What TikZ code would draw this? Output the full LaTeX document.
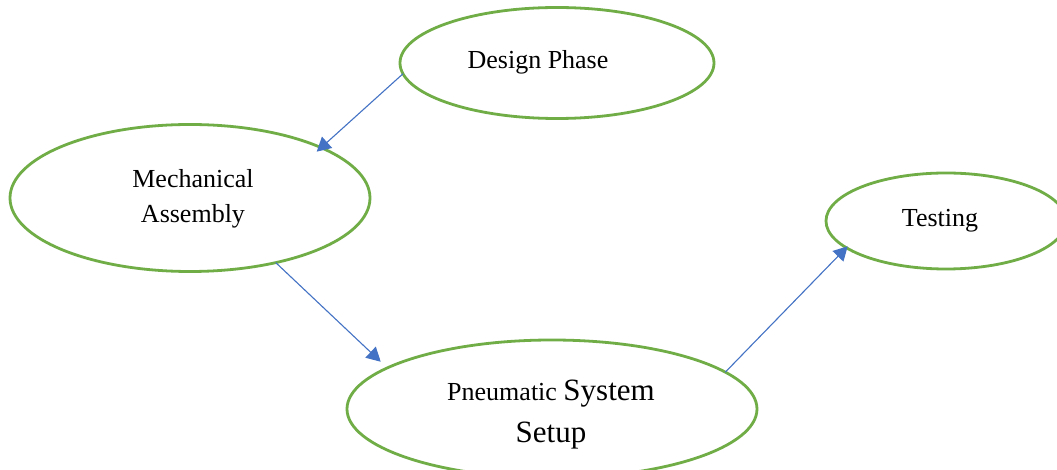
\documentclass[tikz,border=0pt]{standalone}
\usepackage{fontspec}
\setmainfont{Liberation Serif}
\usetikzlibrary{shapes.geometric,arrows.meta}
\definecolor{stagegreen}{HTML}{70AD47}
\definecolor{flowblue}{HTML}{4472C4}
\tikzset{
  stage/.style={ellipse, draw=stagegreen, line width=1.4pt, inner sep=0pt, outer sep=0pt},
  caption/.style={align=center, inner sep=0pt, font=\fontsize{13}{17.5}\selectfont, text=black},
  flow/.style={draw=flowblue, line width=0.55pt,
    -{Triangle[length=7pt,width=7.5pt]}}
}
\newcommand{\bigword}[1]{{\fontsize{15.5}{21}\selectfont #1}}
\begin{document}
\begin{tikzpicture}[x=0.5pt,y=-0.5pt]
  \useasboundingbox (0,0) rectangle (1057,470);
  \clip (0,0) rectangle (1057,470);
  \fill[white] (0,0) rectangle (1057,470);

  % stages
  \node[stage, minimum width=157pt, minimum height=55.5pt] (design) at (557,63) {};
  \node[stage, minimum width=180pt, minimum height=73.5pt] (mech) at (190,198) {};
  \node[stage, minimum width=120pt, minimum height=48pt] (test) at (946,221) {};
  \node[stage, minimum width=205pt, minimum height=69pt] (pneu) at (552,409) {};

  % stage captions
  \node[caption] (designtext) at (538,62) {Design Phase};
  \node[caption] (mechtext) at (193,199) {Mechanical\\Assembly};
  \node[caption] (testtext) at (940,221) {Testing};
  \node[caption] (pneutext) at (551,415) {Pneumatic \bigword{System}\\[3.5pt]\bigword{Setup}};

  % flow between stages
  \draw[flow, shorten >=-3pt] (design.184.3) -- (mech.21.5);
  \draw[flow, shorten >=4.5pt] (mech.-37.5) -- (pneu.166.5);
  \draw[flow, shorten >=-1pt] (pneu.12.1) -- (test.195);
\end{tikzpicture}
\end{document}
